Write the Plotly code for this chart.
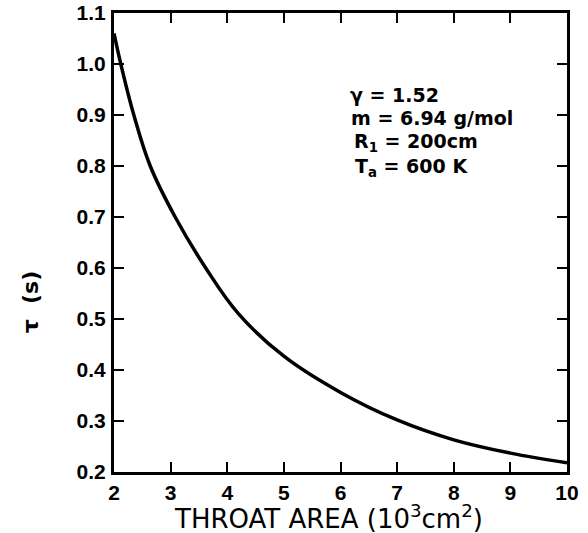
import plotly.graph_objects as go

throat_area = [2.0, 2.12, 2.35, 2.64, 3.08, 3.62, 4.2, 5.0, 6.0, 7.0, 8.0, 9.0, 10.0]
tau = [1.06, 1.00, 0.90, 0.80, 0.70, 0.60, 0.51, 0.427, 0.356, 0.302, 0.263, 0.237, 0.218]

x_ticks = [2, 3, 4, 5, 6, 7, 8, 9, 10]
x_tick_text = ["2", "3", "4", "5", "6", "7", "8", "9", "10"]
y_ticks = [0.2, 0.3, 0.4, 0.5, 0.6, 0.7, 0.8, 0.9, 1.0, 1.1]
y_tick_text = ["0.2", "0.3", "0.4", "0.5", "0.6", "0.7", "0.8", "0.9", "1.0", "1.1"]

params = ["γ = 1.52", "m = 6.94 g/mol", "R<sub>1</sub> = 200cm", "T<sub>a</sub> = 600 K"]
x_title = "THROAT AREA (10<sup>3</sup>cm<sup>2</sup>)"
y_title = "τ  (s)"

tick_family = "Liberation Sans"
text_family = "DejaVu Sans"

fig = go.Figure()
fig.add_trace(go.Scatter(
    x=throat_area, y=tau, mode="lines",
    line=dict(color="black", width=3.5, shape="spline", smoothing=1.1),
    showlegend=False, hoverinfo="skip",
))

axis_common = dict(
    showgrid=False, zeroline=False, showline=True, linecolor="black", linewidth=3,
    mirror="ticks", ticks="inside", ticklen=10, tickwidth=2, tickcolor="black",
    tickfont=dict(family=tick_family, size=21, color="black", weight="bold"),
    automargin=False, ticklabeloverflow="allow",
)

fig.update_xaxes(range=[2, 10], tickvals=x_ticks, ticktext=x_tick_text,
                 ticklabelstandoff=0, **axis_common)
fig.update_yaxes(range=[0.2, 1.1], tickvals=y_ticks, ticktext=y_tick_text,
                 ticklabelstandoff=1, **axis_common)

# axis titles
fig.add_annotation(
    x=0.473, y=-0.099, xref="paper", yref="paper", text=x_title, showarrow=False,
    xanchor="center", yanchor="middle",
    font=dict(family=text_family, size=26, color="black"),
)
fig.add_annotation(
    x=-0.185, y=0.37, xref="paper", yref="paper", text=y_title, showarrow=False,
    textangle=-90, xanchor="center", yanchor="middle",
    font=dict(family=text_family, size=22, color="black", weight="bold"),
)

param_y = [0.821, 0.771, 0.717, 0.664]
param_x = [0.517, 0.519, 0.526, 0.528]
for t, px, py in zip(params, param_x, param_y):
    fig.add_annotation(
        x=px, y=py, xref="paper", yref="paper",
        text=t, showarrow=False, xanchor="left", yanchor="middle",
        font=dict(family=text_family, size=19, color="black", weight="bold"),
    )

fig.update_layout(
    width=588, height=533,
    margin=dict(l=114, r=21, t=13, b=61),
    paper_bgcolor="white", plot_bgcolor="white",
)

# remove the default 8px page margin so the figure fills the window exactly
fig.write_html(
    "out.html",
    config={"displayModeBar": False},
    post_script="document.body.style.margin='0px';document.body.style.overflow='hidden';",
)
